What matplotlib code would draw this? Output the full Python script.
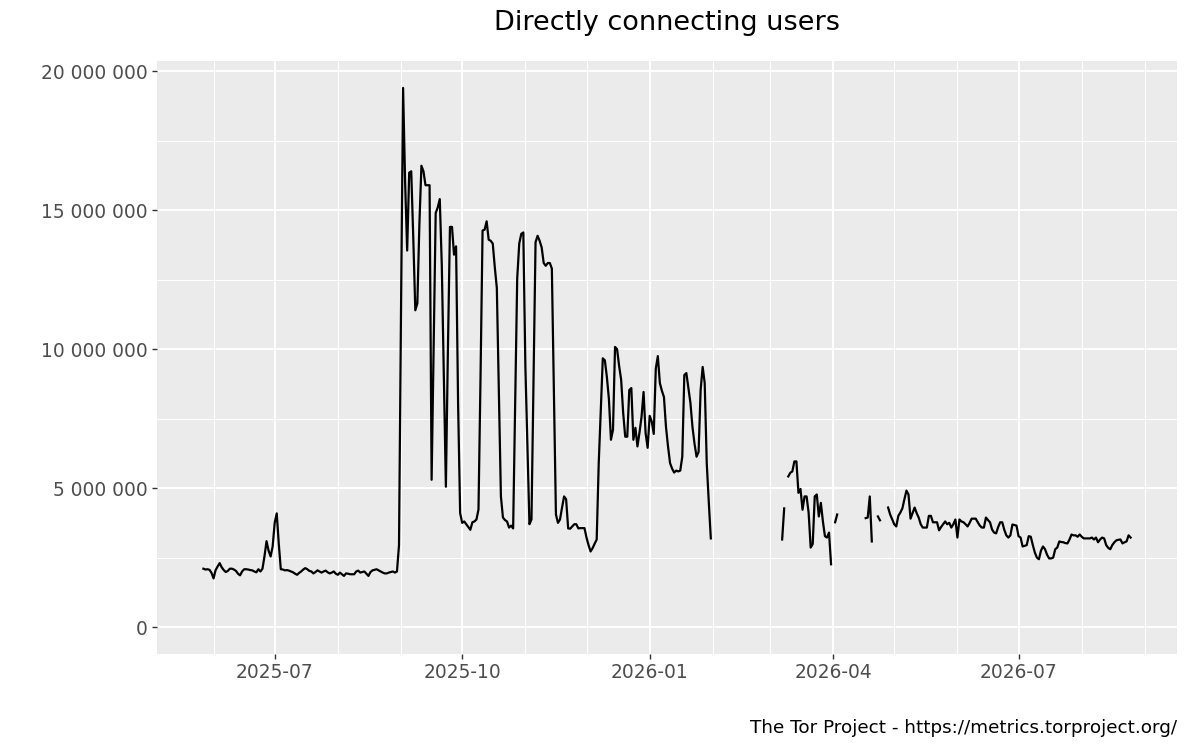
import numpy as np
import pandas as pd
import matplotlib
matplotlib.use("Agg")
import matplotlib.pyplot as plt
import matplotlib.dates as mdates
from matplotlib.ticker import FuncFormatter, MultipleLocator

nan = float("nan")

# Daily directly connecting users, in millions
start_summer_2025 = "2025-05-27"
users_summer_2025 = [
    2.10, 2.07, 2.08, 2.06, 1.95, 1.75, 2.05, 2.18, 2.30, 2.15,
    2.05, 1.98, 2.02, 2.10, 2.10, 2.07, 2.02, 1.92, 1.86, 2.00,
    2.08, 2.08, 2.07, 2.05, 2.04, 2.00, 1.97, 2.08, 2.00, 2.10,
    2.55, 3.09, 2.75, 2.54, 2.90, 3.75, 4.09, 3.00, 2.08,
    2.07, 2.04, 2.05, 2.03, 2.00, 1.97, 1.92, 1.88, 1.95, 2.00,
    2.07, 2.12, 2.08, 2.02, 2.00, 1.93, 1.98, 2.04, 2.00, 1.96,
    2.00, 2.03, 1.97, 1.93, 1.96, 2.00, 1.92, 1.88, 1.96, 1.90,
    1.84, 1.93, 1.92, 1.90, 1.90, 1.90, 2.00, 2.03, 1.96, 1.98,
    2.00, 1.92, 1.84, 1.98, 2.04, 2.06, 2.08, 2.04, 2.00, 1.96,
    1.93, 1.93, 1.96, 1.98, 2.00, 1.96, 2.00, 2.95,
]

start_autumn_2025 = "2025-09-01"
users_autumn_2025 = [
    11.5, 19.4, 16.0, 13.55, 16.35, 16.4, 14.0, 11.4, 11.65, 14.5,
    16.6, 16.4, 15.9, 15.9, 15.9, 5.3, 10.0, 14.9, 15.1, 15.4,
    13.0, 9.0, 5.05, 10.0, 14.4, 14.4, 13.4, 13.7, 8.0, 4.1,
    3.75, 3.8, 3.7, 3.6, 3.5, 3.77, 3.8, 3.87, 4.23, 9.0,
    14.27, 14.3, 14.6, 13.94, 13.9, 13.8, 12.95, 12.2, 8.5, 4.7,
    3.94, 3.85, 3.8, 3.58, 3.65, 3.55, 8.0, 12.55, 13.8, 14.15,
    14.2, 9.4, 6.5, 3.7, 3.87, 8.8, 13.85, 14.08, 13.9, 13.66,
    13.1, 13.0, 13.1, 13.1, 12.9, 8.5, 4.05, 3.75, 3.87, 4.3,
    4.7, 4.6, 3.55, 3.54, 3.62, 3.7, 3.7, 3.55, 3.56, 3.56,
    3.56, 3.22, 2.95, 2.72, 2.84, 3.0, 3.15, 5.9, 7.8, 9.67,
    9.6, 9.0, 8.2, 6.74, 7.1, 10.08, 10.0, 9.4, 8.9, 7.7,
    6.85, 6.85, 8.53, 8.6, 6.74, 7.17, 6.5, 7.0, 7.56, 8.46,
    6.98, 6.45, 7.6, 7.4, 6.95, 9.3, 9.75, 8.78, 8.5, 8.28,
    7.2, 6.5, 5.9, 5.7, 5.56, 5.63, 5.6, 5.63, 6.13, 9.07,
    9.14, 8.6, 8.06, 7.2, 6.6, 6.13, 6.3, 8.53, 9.36, 8.78,
    5.9, 4.5, 3.19,
]

start_spring_2026 = "2026-03-07"
users_spring_2026 = [
    3.15, 4.27, nan, 5.42, 5.55, 5.6, 5.96, 5.96, 4.83, 4.97,
    4.22, 4.7, 4.7, 4.11, 2.86, 2.99, 4.7, 4.77, 3.98, 4.47,
    3.8, 3.27, 3.22, 3.4, 2.26, nan, 3.77, 4.05, nan, nan,
    nan, nan, nan, nan, nan, nan, nan, nan, nan, nan,
    nan, 3.92, 3.94, 4.7, 3.08, nan, nan, 3.98, 3.84, nan,
    nan, nan,
]

start_summer_2026 = "2026-04-28"
users_summer_2026 = [
    4.3, 4.05, 3.87, 3.7, 3.62, 4.0, 4.12, 4.27, 4.6, 4.91,
    4.77, 3.9, 4.1, 4.3, 4.1, 3.94, 3.7, 3.58, 3.58, 3.58,
    4.0, 4.0, 3.77, 3.77, 3.77, 3.48, 3.6, 3.7, 3.8, 3.7,
    3.75, 3.58, 3.7, 3.87, 3.22, 3.87, 3.8, 3.77, 3.7, 3.62,
    3.75, 3.9, 3.9, 3.9, 3.77, 3.65, 3.58, 3.58, 3.94, 3.85,
    3.77, 3.51, 3.4, 3.37, 3.6, 3.77, 3.77, 3.5, 3.3, 3.22,
    3.3, 3.69, 3.67, 3.65, 3.27, 3.22, 2.9, 2.92, 2.95, 3.27,
    3.25, 2.95, 2.68, 2.5, 2.44, 2.75, 2.9, 2.8, 2.6, 2.47,
    2.47, 2.5, 2.8, 2.86, 3.08, 3.06, 3.05, 3.02, 3.01, 3.15,
    3.33, 3.3, 3.3, 3.25, 3.33, 3.25, 3.19, 3.19, 3.19, 3.19,
    3.22, 3.15, 3.22, 3.05, 3.15, 3.22, 3.19, 2.95, 2.85, 2.8,
    2.95, 3.05, 3.12, 3.14, 3.15, 3.01, 3.05, 3.08, 3.3, 3.22,
]

title = "Directly connecting users"
caption = "The Tor Project - https://metrics.torproject.org/"


def seg(start, vals):
    return pd.Series(vals, index=pd.date_range(start, periods=len(vals), freq="D"))


series = pd.concat([
    seg(start_summer_2025, users_summer_2025),
    seg(start_autumn_2025, users_autumn_2025),
    seg(start_spring_2026, users_spring_2026),
    seg(start_summer_2026, users_summer_2026),
])
series = series[~series.index.duplicated(keep="last")].sort_index()
full_idx = pd.date_range(series.index.min(), series.index.max(), freq="D")
series = series.reindex(full_idx) * 1e6

W, H = 1200, 750
fig = plt.figure(figsize=(12, 7.5), dpi=100)
left, right, top, bottom = 157, 1177, 61, 654
ax = fig.add_axes([left / W, 1 - bottom / H, (right - left) / W, (bottom - top) / H])
ax.set_facecolor("#EBEBEB")
for s in ax.spines.values():
    s.set_visible(False)

ax.plot(series.index, series.values, color="black", lw=1.6)

# ggplot-like 5% expansion
x0, x1 = series.index.min(), series.index.max()
span = x1 - x0
ax.set_xlim(x0 - span * 0.05, x1 + span * 0.05)
ymax = np.nanmax(series.values)
ax.set_ylim(-0.05 * ymax, ymax * 1.05)

ax.yaxis.set_major_locator(MultipleLocator(5e6))
ax.yaxis.set_minor_locator(MultipleLocator(2.5e6))
ax.yaxis.set_major_formatter(FuncFormatter(lambda v, p: f"{v:,.0f}".replace(",", " ")))
ax.xaxis.set_major_locator(mdates.MonthLocator(bymonth=[1, 4, 7, 10]))
ax.xaxis.set_minor_locator(mdates.MonthLocator())
ax.xaxis.set_major_formatter(mdates.DateFormatter("%Y-%m"))

ax.set_axisbelow(True)
ax.grid(which="major", color="white", lw=1.4)
ax.grid(which="minor", color="white", lw=0.75)
ax.tick_params(which="major", length=3.6, width=1.0, color="#333333",
               labelcolor="#4D4D4D", labelsize=13.4, pad=3)
ax.tick_params(which="minor", length=0)

fig.text((left + right) / 2 / W, 1 - 23 / H, title, ha="center", va="center",
         fontsize=19.5, color="black")
fig.text(right / W, 1 - 728 / H, caption, ha="right", va="center",
         fontsize=13.2, color="black")

fig.savefig("out.png", dpi=100, facecolor="white")
